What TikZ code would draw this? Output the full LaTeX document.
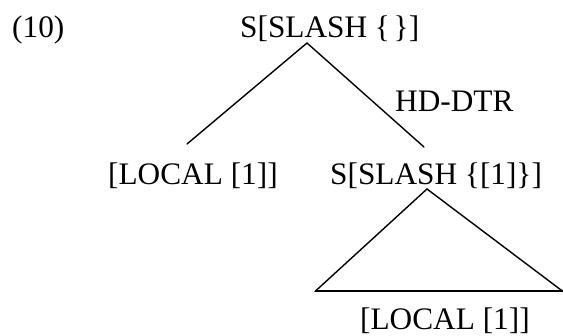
\documentclass[tikz,border=0pt]{standalone}
\usepackage{fontspec}
\setmainfont{Liberation Serif}
\tikzset{
  lbl/.style={inner sep=0pt, anchor=base west, font=\fontsize{31.3}{38}\selectfont},
  branch/.style={line width=1.4pt, line cap=round},
  basebar/.style={line width=2pt}
}
\begin{document}
\begin{tikzpicture}[x=1pt,y=-1pt]
\useasboundingbox (0,0) rectangle (563,336);
\node[lbl] (num) at (12,38) {(10)};
\node[lbl] (root) at (240,37.5) {S[SLASH \{\hspace{0.12em}\}]};
\node[lbl] (hd) at (395,112) {HD-DTR};
\node[lbl] (left) at (108,185) {[LOCAL [1]]};
\node[lbl] (right) at (330,185) {S[SLASH \{[1]\}]};
\node[lbl] (bottom) at (360,329.5) {[LOCAL [1]]};
\coordinate (rootapex) at (307,43);
\coordinate (leftend) at (187,144);
\coordinate (rightend) at (424,147);
\coordinate (triapex) at (427,189);
\coordinate (trileft) at (315,291.5);
\coordinate (triright) at (563,291.5);
\draw[branch] (rootapex) -- (leftend);
\draw[branch] (rootapex) -- (rightend);
\draw[branch] (triapex) -- (trileft);
\draw[branch] (triapex) -- (triright);
\draw[basebar] (trileft) -- (triright);
\end{tikzpicture}
\end{document}
